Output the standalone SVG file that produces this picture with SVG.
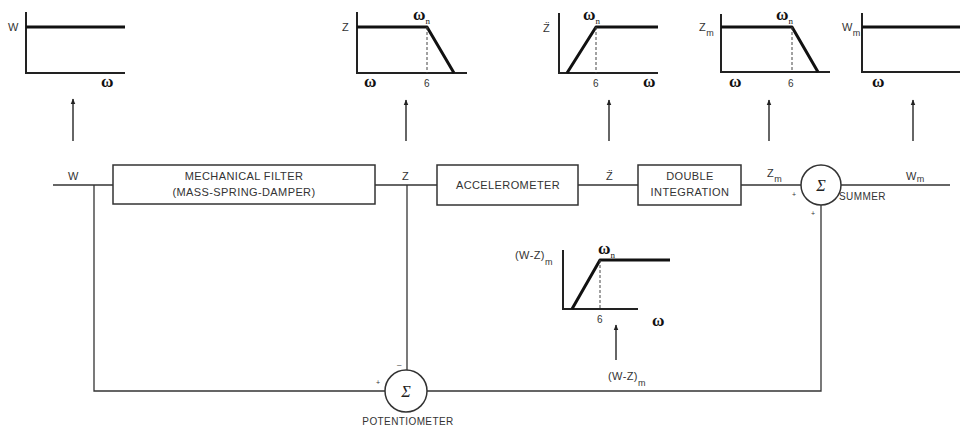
<svg xmlns="http://www.w3.org/2000/svg" width="960" height="429" viewBox="0 0 960 429">
<defs>
<marker id="ah" viewBox="0 0 10 10" refX="9" refY="5" markerWidth="6" markerHeight="7" orient="auto" markerUnits="userSpaceOnUse">
<path d="M0,1 L10,5 L0,9 Z" fill="#222"/>
</marker>
<style>
.ax{stroke:#222;stroke-width:2;fill:none}
.cv{stroke:#111;stroke-width:3;fill:none;stroke-linejoin:round}
.ds{stroke:#444;stroke-width:1;stroke-dasharray:3,2;fill:none}
.ln{stroke:#333;stroke-width:1.3;fill:none}
.bx{stroke:#333;stroke-width:1.5;fill:#fff}
.t{font-family:"Liberation Sans",Arial,sans-serif;font-size:11px;fill:#333;letter-spacing:0.4px}
.s{font-family:"Liberation Sans",Arial,sans-serif;font-size:10px;fill:#333}
.w{font-family:"Liberation Serif","Times New Roman",serif;font-size:17px;font-weight:bold;fill:#111}
.g{font-family:"Liberation Serif","Times New Roman",serif;font-size:16px;font-style:italic;fill:#222}
.arr{stroke:#333;stroke-width:1.5;fill:none}
.sub{font-size:9px;letter-spacing:0}
</style>
</defs>
<rect width="960" height="429" fill="#fff"/>

<g id="graph-w">
<path class="ax" d="M26,12 V73 H125"/>
<path class="cv" d="M26,27 H125"/>
<text class="t" x="8" y="31">W</text>
<text class="w" x="101" y="87">ω</text>
</g>

<g id="graph-z">
<path class="ax" d="M357,12 V73 H467"/>
<path class="cv" d="M357,27 H427 L454,73"/>
<path class="ds" d="M427,27 V73"/>
<text class="t" x="342" y="31">Z</text>
<text class="w" x="413" y="20">ω<tspan class="sub" dy="4" font-weight="normal">n</tspan></text>
<text class="w" x="364" y="87">ω</text>
<text class="s" x="424" y="87">6</text>
</g>

<g id="graph-zdd">
<path class="ax" d="M559,13 V73 H658"/>
<path class="cv" d="M567,73 L596,27 H658"/>
<path class="ds" d="M596,27 V73"/>
<text class="t" x="543" y="32">Z̈</text>
<text class="w" x="583" y="20">ω<tspan class="sub" dy="4" font-weight="normal">n</tspan></text>
<text class="w" x="643" y="87">ω</text>
<text class="s" x="593" y="87">6</text>
</g>

<g id="graph-zm">
<path class="ax" d="M721,14 V72 H830"/>
<path class="cv" d="M721,27 H792 L818,72"/>
<path class="ds" d="M792,27 V72"/>
<text class="t" x="699" y="31">Z<tspan class="sub" dy="5">m</tspan></text>
<text class="w" x="776" y="20">ω<tspan class="sub" dy="4" font-weight="normal">n</tspan></text>
<text class="w" x="729" y="87">ω</text>
<text class="s" x="788" y="87">6</text>
</g>

<g id="graph-wm">
<path class="ax" d="M862,13 V72 H960"/>
<path class="cv" d="M862,27 H960"/>
<text class="t" x="842" y="31">W<tspan class="sub" dy="5">m</tspan></text>
<text class="w" x="872" y="87">ω</text>
</g>

<g id="graph-wzm">
<path class="ax" d="M563,250 V309 H638"/>
<path class="cv" d="M572,309 L600,260 H670"/>
<path class="ds" d="M600,260 V309"/>
<text class="t" x="515" y="259">(W-Z)<tspan class="sub" dy="6">m</tspan></text>
<text class="w" x="598" y="254">ω<tspan class="sub" dy="4" font-weight="normal">n</tspan></text>
<text class="w" x="652" y="326">ω</text>
<text class="s" x="597" y="323">6</text>
</g>

<g id="filter">
<rect class="bx" x="113" y="165" width="262" height="39"/>
<text class="t" x="244" y="180" text-anchor="middle">MECHANICAL FILTER</text>
<text class="t" x="244" y="196" text-anchor="middle">(MASS-SPRING-DAMPER)</text>
</g>

<g id="accelerometer">
<rect class="bx" x="437" y="165" width="141" height="40"/>
<text class="t" x="508" y="189" text-anchor="middle">ACCELEROMETER</text>
</g>

<g id="integration">
<rect class="bx" x="638" y="165" width="103" height="40"/>
<text class="t" x="690" y="180" text-anchor="middle">DOUBLE</text>
<text class="t" x="690" y="196" text-anchor="middle">INTEGRATION</text>
</g>

<g id="summer">
<circle class="bx" cx="821" cy="185" r="20"/>
<text class="g" x="821" y="191" text-anchor="middle">Σ</text>
<text class="t" x="839" y="200" style="font-size:10px">SUMMER</text>
<text class="s" x="792" y="197" style="font-size:7px">+</text>
<text class="s" x="811" y="216" style="font-size:7px">+</text>
</g>

<g id="potentiometer">
<circle class="bx" cx="406" cy="391" r="21"/>
<text class="g" x="406" y="397" text-anchor="middle">Σ</text>
<text class="t" x="408" y="425" text-anchor="middle" style="font-size:10px">POTENTIOMETER</text>
<text class="s" x="376" y="385" style="font-size:7px">+</text>
<text class="s" x="397" y="367" style="font-size:8px">–</text>
</g>

<g id="connectors">
<path class="ln" d="M53,185 H113"/>
<path class="ln" d="M375,185 H437"/>
<path class="ln" d="M578,185 H638"/>
<path class="ln" d="M741,185 H801"/>
<path class="ln" d="M841,185 H950"/>
<path class="ln" d="M94,185 V391 H385"/>
<path class="ln" d="M407,185 V370"/>
<path class="ln" d="M427,391 H821 V205"/>
<path class="arr" d="M73,141 V99" marker-end="url(#ah)"/>
<path class="arr" d="M406,141 V100" marker-end="url(#ah)"/>
<path class="arr" d="M609,141 V100" marker-end="url(#ah)"/>
<path class="arr" d="M769,141 V100" marker-end="url(#ah)"/>
<path class="arr" d="M913,141 V100" marker-end="url(#ah)"/>
<path class="arr" d="M616,360 V325" marker-end="url(#ah)"/>
<text class="t" x="68" y="180">W</text>
<text class="t" x="402" y="180">Z</text>
<text class="t" x="606" y="180">Z̈</text>
<text class="t" x="767" y="177">Z<tspan class="sub" dy="5">m</tspan></text>
<text class="t" x="906" y="180">W<tspan class="sub" dy="2">m</tspan></text>
<text class="t" x="608" y="380">(W-Z)<tspan class="sub" dy="6">m</tspan></text>
</g>
</svg>
